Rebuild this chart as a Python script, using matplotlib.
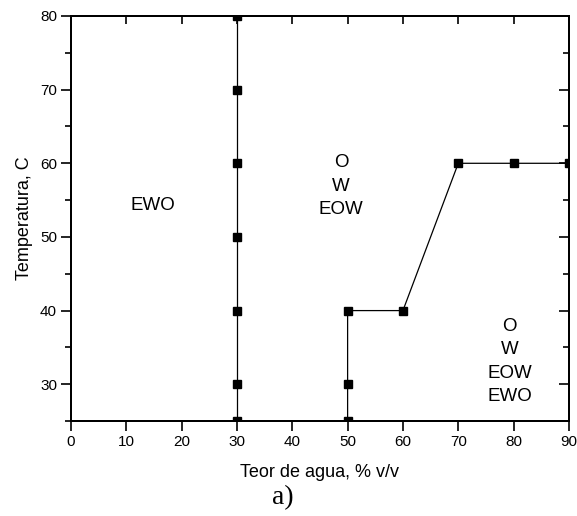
import matplotlib
matplotlib.use("Agg")
import matplotlib.pyplot as plt
from matplotlib.ticker import MultipleLocator, NullLocator

plt.rcParams['font.family'] = ['Liberation Sans', 'DejaVu Sans']

# Phase boundary at 30 % water
b1_x = [30, 30, 30, 30, 30, 30, 30]
b1_y = [25, 30, 40, 50, 60, 70, 80]

# Phase boundary from 50 % to 90 % water
b2_x = [50, 50, 50, 60, 70, 80, 90]
b2_y = [25, 30, 40, 40, 60, 60, 60]

x_ticks = [0, 10, 20, 30, 40, 50, 60, 70, 80, 90]
y_ticks = [30, 40, 50, 60, 70, 80]

fig = plt.figure(figsize=(5.77, 5.16), dpi=100)
ax = fig.add_axes([0.123, 0.184, 0.863, 0.785])

for xs, ys in [(b1_x, b1_y), (b2_x, b2_y)]:
    ax.plot(xs, ys, color='black', lw=0.9, marker='s', markersize=5.8,
            markerfacecolor='black', markeredgecolor='black', zorder=3)

ax.set_xlim(0, 90)
ax.set_ylim(25, 80)
ax.set_xticks(x_ticks)
ax.set_yticks(y_ticks)
ax.xaxis.set_minor_locator(NullLocator())
ax.yaxis.set_minor_locator(MultipleLocator(5))
ax.tick_params(axis='x', which='major', direction='out', length=7, width=1.2,
               labelsize=11, pad=3)
ax.tick_params(axis='y', which='major', direction='out', length=7, width=1.2,
               labelsize=11, pad=3)
ax.tick_params(axis='y', which='minor', direction='out', length=4, width=1.2)

for s in ax.spines.values():
    s.set_linewidth(1.3)

# inward ticks on the right spine
axr = ax.twinx()
axr.set_ylim(25, 80)
axr.set_yticks(y_ticks)
axr.yaxis.set_minor_locator(MultipleLocator(5))
axr.tick_params(axis='y', which='major', direction='in', length=7, width=1.2, labelright=False)
axr.tick_params(axis='y', which='minor', direction='in', length=4, width=1.2)

# inward ticks on the top spine
axt = ax.twiny()
axt.set_xlim(0, 90)
axt.set_xticks(x_ticks)
axt.xaxis.set_minor_locator(NullLocator())
axt.tick_params(axis='x', which='major', direction='in', length=6, width=1.2, labeltop=False)

for a in (axr, axt):
    for s in a.spines.values():
        s.set_linewidth(1.3)

ax.set_xlabel('Teor de agua, % v/v', fontsize=13, labelpad=11)
ax.set_ylabel('Temperatura, C', fontsize=13, labelpad=5)

ax.text(14.8, 54.3, 'EWO', fontsize=13.5, ha='center', va='center')
ax.text(48.8, 56.9, 'O\nW\nEOW', fontsize=13.5, ha='center', va='center', linespacing=1.5)
ax.text(79.3, 33.1, 'O\nW\nEOW\nEWO', fontsize=13.5, ha='center', va='center', linespacing=1.5)

fig.text(0.49, 0.036, 'a)', fontsize=20, ha='center', va='center',
         family=['Liberation Serif', 'DejaVu Serif'])

fig.savefig('out.png', dpi=100)
